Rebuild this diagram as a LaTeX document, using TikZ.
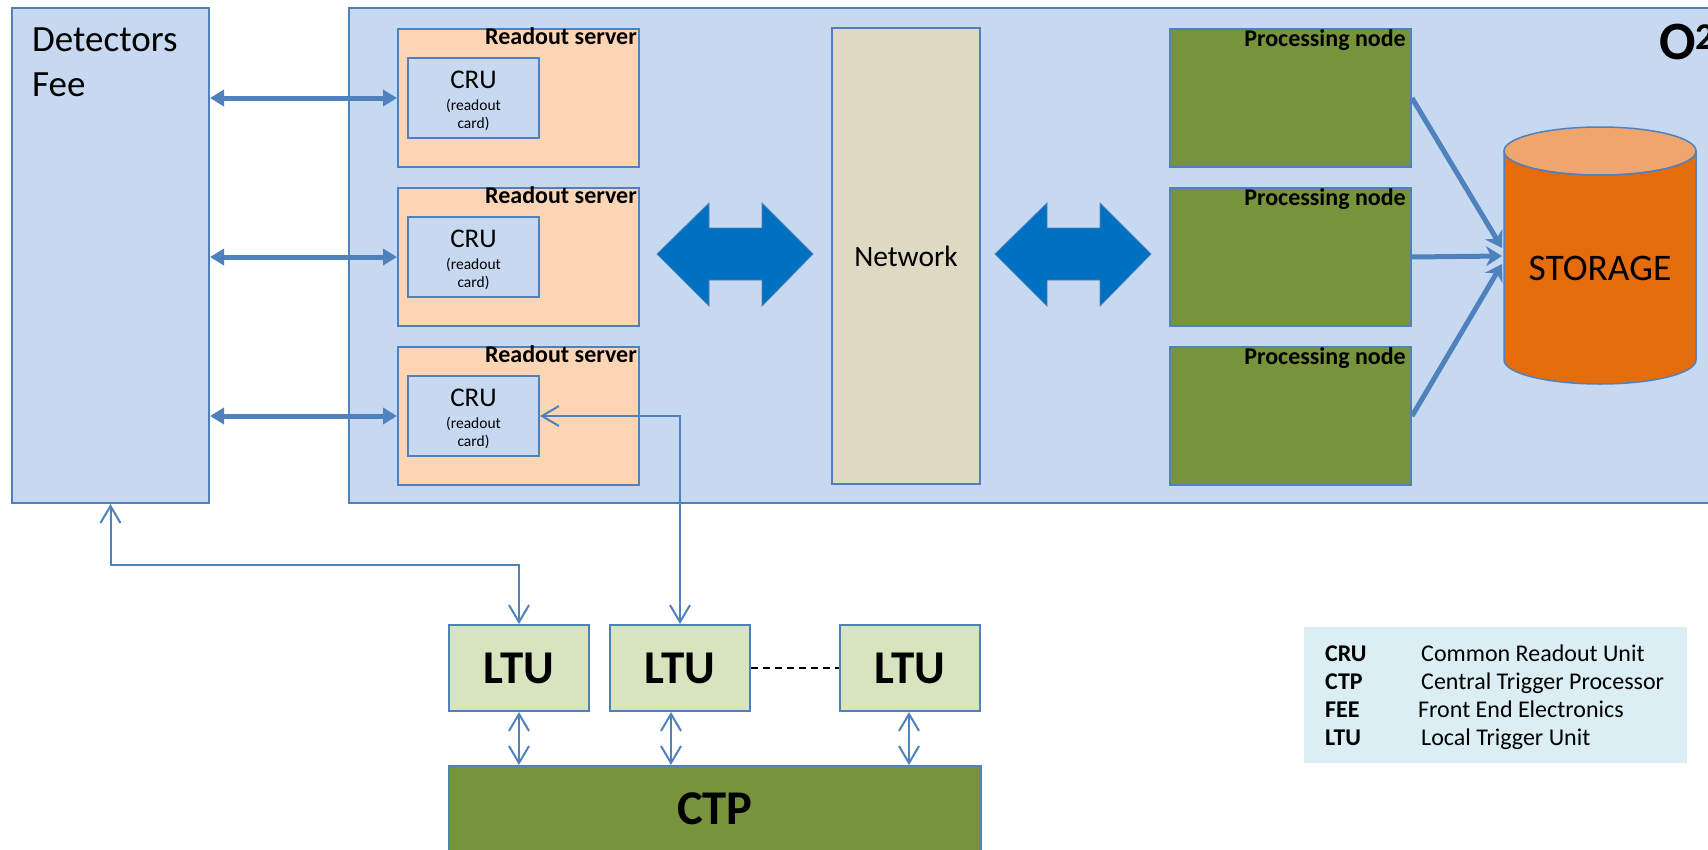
\documentclass[tikz,border=0pt]{standalone}
\usepackage{fontspec}
\setmainfont{Carlito}
\usepackage{xcolor}
\usetikzlibrary{arrows.meta,
                calc}

\definecolor{lineblue}{HTML}{4F81BD}
\definecolor{paleblue}{HTML}{C6D9F1}
\definecolor{peach}{HTML}{FCD5B5}
\definecolor{tan}{HTML}{DDD9C3}
\definecolor{olive}{HTML}{77933C}
\definecolor{ltugreen}{HTML}{D7E4BD}
\definecolor{bigblue}{HTML}{0070C0}
\definecolor{storbody}{HTML}{E46C0A}
\definecolor{stortop}{HTML}{EFA56B}
\definecolor{legendblue}{HTML}{DAEEF3}

\begin{document}
\begin{tikzpicture}[x=1pt,y=-1pt,
  box/.style={draw=lineblue, line width=2pt, inner sep=0pt, anchor=north west},
  title/.style={font=\bfseries\fontsize{24}{28}\selectfont, inner sep=0pt},
  link/.style={draw=lineblue, line width=2pt,
    {Straight Barb[length=17pt,width=20pt]}-{Straight Barb[length=17pt,width=20pt]}},
  fatlink/.style={draw=lineblue, line width=5pt,
    {Triangle[length=14pt,width=16pt]}-{Triangle[length=14pt,width=16pt]}},
  tostore/.style={draw=lineblue, line width=5pt, -{Stealth[length=16pt,width=20pt]}}]
\useasboundingbox (0,0) rectangle (1708,849);

% detectors and O2 frame
\node[box, fill=paleblue, minimum width=197pt, minimum height=495pt] (det) at (11,7) {};
\node[anchor=north west, align=left, inner sep=0pt, font=\fontsize{37}{45}\selectfont] (dettext) at (32,28) {Detectors\\Fee};
\node[box, fill=paleblue, minimum width=1400pt, minimum height=495pt] (o2) at (348,7) {};
\node[anchor=base west, inner sep=0pt, font=\bfseries\fontsize{54}{54}\selectfont] (o2text) at (1659,59) {O\textsuperscript{2}};

% readout servers
\foreach \i/\y in {1/28,2/187,3/346}{
  \node[box, fill=peach, minimum width=241pt, minimum height=138pt] (rs\i) at (397,\y) {};
  \node[title, anchor=base east] (rstitle\i) at ($(rs\i.north east)+(-3,16)$) {Readout server};
  \node[box, fill=paleblue, minimum width=131pt, minimum height=80pt] (cru\i) at ($(rs\i.north west)+(10,29)$) {};
  \node[anchor=base, inner sep=0pt, font=\fontsize{27}{27}\selectfont] (crutext\i) at ($(cru\i.north)+(0,31)$) {CRU};
  \node[anchor=base, inner sep=0pt, align=center, font=\fontsize{15.5}{18}\selectfont] (crunote\i) at ($(cru\i.north)+(0,71)$) {(readout\\card)};
}

\node[box, fill=tan, minimum width=148pt, minimum height=456pt, font=\fontsize{29.5}{32}\selectfont] (net) at (831,27) {Network};

% processing nodes
\foreach \i/\y in {1/28,2/187,3/346}{
  \node[box, fill=olive, minimum width=241pt, minimum height=138pt] (pn\i) at (1169,\y) {};
  \node[title, anchor=base east] (pntitle\i) at ($(pn\i.north east)+(-6,18)$) {Processing node};
}

\foreach \x in {657,995}
  \filldraw[fill=bigblue, draw=lineblue, line width=0.8pt] (\x,254) -- ++(52,-51) -- ++(0,25) -- ++(53,0) -- ++(0,-25)
    -- ++(51,51) -- ++(-51,52) -- ++(0,-26) -- ++(-53,0) -- ++(0,26) -- cycle;

% storage
\filldraw[fill=storbody, draw=lineblue, line width=1.5pt] (1504,151) -- (1504,360)
  arc[start angle=180, end angle=360, x radius=96pt, y radius=24pt] -- (1696,151)
  arc[start angle=0, end angle=-180, x radius=96pt, y radius=24pt] -- cycle;
\filldraw[fill=stortop, draw=lineblue, line width=1.5pt] (1600,151) ellipse[x radius=96pt, y radius=24pt];
\node[font=\fontsize{37.5}{40}\selectfont, inner sep=0pt] (stor) at (1600,268) {STORAGE};

\foreach \i/\y in {1/248,2/256,3/264}{
  \coordinate (sin\i) at (1502,\y);
  \draw[tostore] (pn\i.east) -- (sin\i);
}

\foreach \i in {1,2,3}
  \draw[fatlink] (det.east |- rs\i.west) -- (rs\i.west);

% trigger
\foreach \i/\x in {1/448,2/609,3/839}
  \node[box, fill=ltugreen, minimum width=140pt, minimum height=86pt, font=\bfseries\fontsize{47}{47}\selectfont] (ltu\i) at (\x,624) {LTU};
\node[box, fill=olive, minimum width=532pt, minimum height=86pt, font=\bfseries\fontsize{48.5}{48}\selectfont] (ctp) at (448,765) {CTP};

\draw[dash pattern=on 7pt off 5pt, line width=1.5pt] (ltu2.east) -- (ltu3.west);
\foreach \i/\dx in {1/0,2/-9,3/-1}
  \draw[link] ($(ltu\i.south)+(\dx,0)$) -- ($(ltu\i.south |- ctp.north)+(\dx,0)$);

\draw[link] (det.south) -- ++(0,61) -| (ltu1.north);
\draw[link] (cru3.east) -| (ltu2.north);

% legend
\node[fill=legendblue, inner sep=0pt, anchor=north west, minimum width=383pt, minimum height=136pt] (legend) at (1304,627) {};
\foreach \i/\a/\b/\dx in {1/CRU/Common Readout Unit/0, 2/CTP/Central Trigger Processor/0,
                          3/FEE/Front End Electronics/-3, 4/LTU/Local Trigger Unit/0}{
  \node[anchor=base west, inner sep=0pt, font=\bfseries\fontsize{24}{28}\selectfont] (key\i) at (1325,633+28*\i) {\a};
  \node[anchor=base west, inner sep=0pt, font=\fontsize{24}{28}\selectfont] (val\i) at (1421+\dx,633+28*\i) {\b};
}
\end{tikzpicture}
\end{document}
